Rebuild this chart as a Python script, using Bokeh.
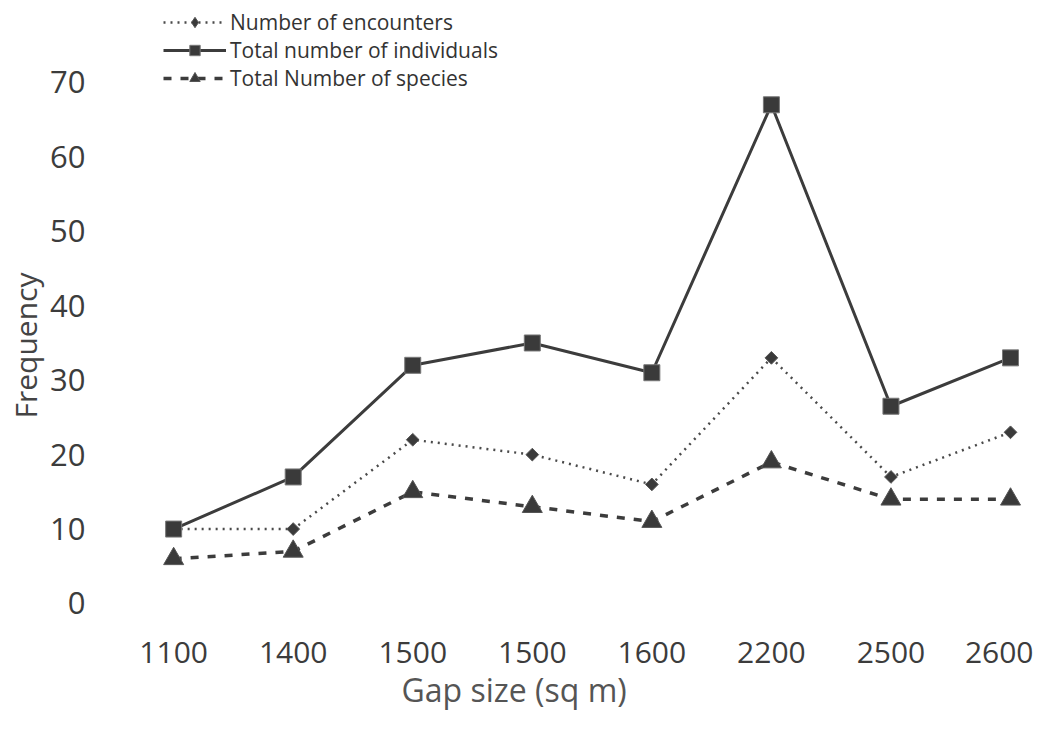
import math
from bokeh.plotting import figure
from bokeh.models import Range1d, FixedTicker, Legend, LegendItem, Title
from bokeh.embed import file_html
from bokeh.resources import INLINE

# ---- data ----
gap_sizes = ["1100", "1400", "1500", "1500", "1600", "2200", "2500", "2600"]
encounters = [10, 10, 22, 20, 16, 33, 17, 23]
individuals = [10, 17, 32, 35, 31, 67, 26.5, 33]
species = [6, 7, 15, 13, 11, 19, 14, 14]
y_ticks = [0, 10, 20, 30, 40, 50, 60, 70]
series_names = ["Number of encounters", "Total number of individuals", "Total Number of species"]

xs = list(range(len(gap_sizes)))
FONT = "Open Sans"

p = figure(width=1033, height=713, output_backend="svg", toolbar_location=None,
           x_range=Range1d(-0.57, 7.184), y_range=Range1d(-1.881, 81.01),
           min_border_left=94, min_border_right=1, min_border_top=0, min_border_bottom=96)

p.outline_line_color = None
p.grid.grid_line_color = None
p.background_fill_color = "white"
p.border_fill_color = "white"

# axes
p.xaxis.ticker = FixedTicker(ticks=xs)
p.xaxis.major_label_overrides = {i: s for i, s in enumerate(gap_sizes)}
p.yaxis.ticker = FixedTicker(ticks=y_ticks)
for ax in (p.xaxis, p.yaxis):
    ax.axis_line_color = None
    ax.major_tick_line_color = None
    ax.minor_tick_line_color = None
    ax.major_label_text_font = FONT
    ax.major_label_text_color = "#3c3c3c"
p.xaxis.major_label_text_font_size = "30px"
p.yaxis.major_label_text_font_size = "31px"
p.xaxis.major_label_standoff = 18
p.yaxis.major_label_standoff = 14

yt = Title(text="Frequency", align="left", offset=199, text_font=FONT,
           text_font_size="30px", text_font_style="normal", text_color="#444444",
           standoff=4)
p.add_layout(yt, "left")

xt = Title(text="Gap size (sq m)", align="left", offset=296, text_font=FONT,
           text_font_size="32px", text_font_style="normal", text_color="#555555",
           standoff=0)
p.add_layout(xt, "below")

# series
l_enc = p.line(xs, encounters, line_color="#4a4a4a", line_width=2.5, line_dash="2 5")
m_enc = p.scatter(xs, encounters, marker="square", size=9, angle=math.pi / 4,
                  fill_color="#3a3a3a", line_color="#555555", line_width=1)
# legend-only diamond sample (not drawn in the plot area)
m_enc_key = p.scatter([math.nan], [math.nan], marker="diamond", size=12,
                      fill_color="#3a3a3a", line_color="#555555", line_width=1)

l_ind = p.line(xs, individuals, line_color="#3c3c3c", line_width=3)
m_ind = p.scatter(xs, individuals, marker="square", size=16,
                  fill_color="#3a3a3a", line_color="#777777", line_width=1)

l_sp = p.line(xs, species, line_color="#3c3c3c", line_width=3.5, line_dash="8 9")
m_sp = p.scatter(xs, species, marker="triangle", size=20,
                 fill_color="#3a3a3a", line_color="#555555", line_width=1)

legend = Legend(items=[
    LegendItem(label=series_names[0], renderers=[l_enc, m_enc_key]),
    LegendItem(label=series_names[1], renderers=[l_ind, m_ind]),
    LegendItem(label=series_names[2], renderers=[l_sp, m_sp]),
], location=(58, 525))
legend.label_text_font = FONT
legend.label_text_font_size = "21px"
legend.label_text_color = "#333333"
legend.label_height = 26
legend.glyph_height = 26
legend.glyph_width = 63
legend.label_standoff = 4
legend.spacing = 0
legend.padding = 0
legend.margin = 0
legend.background_fill_alpha = 0
legend.border_line_alpha = 0
p.add_layout(legend)

open("out.html", "w").write(file_html(p, INLINE))
